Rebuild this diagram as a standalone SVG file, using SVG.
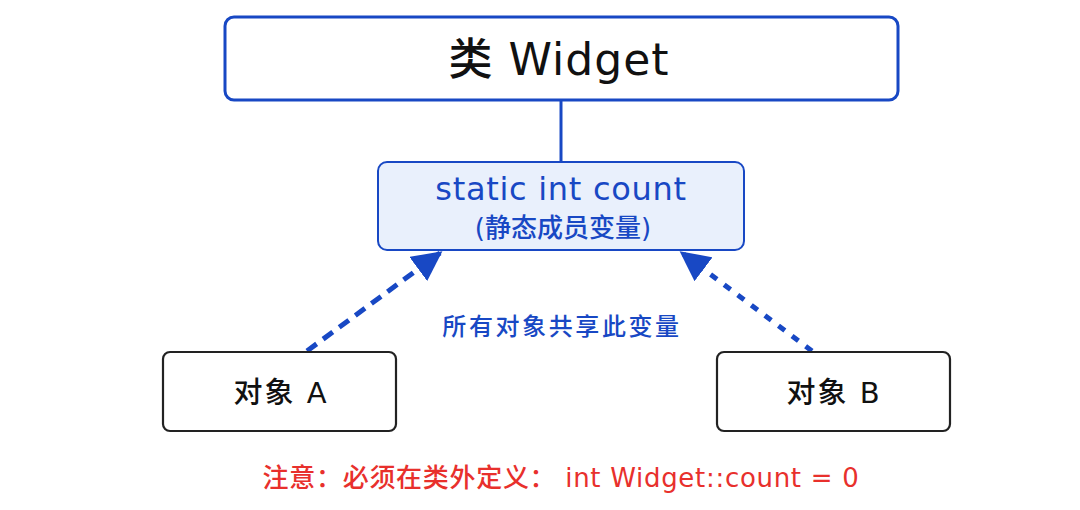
<svg xmlns="http://www.w3.org/2000/svg" width="1080" height="510" viewBox="0 0 1080 510">
<defs>
<style>
.t{font-family:"DejaVu Sans","Noto Sans CJK SC",sans-serif;text-anchor:middle;font-weight:500}
.blue{fill:#1848c4}
.obj{fill:#ffffff;stroke:#222;stroke-width:2.2}
.arrow{stroke:#1848c4;stroke-width:5;fill:none}
</style>
<marker id="ah" viewBox="0 0 10 10" refX="9" refY="5" markerWidth="6" markerHeight="6" markerUnits="strokeWidth" orient="auto">
<path d="M0,0 L10,5 L0,10 Z" fill="#1848c4"/>
</marker>
</defs>
<rect width="1080" height="510" fill="#ffffff"/>
<g id="connectors">
<line x1="561" y1="100" x2="561" y2="162" stroke="#1848c4" stroke-width="3"/>
<line class="arrow" x1="307" y1="351" x2="440" y2="253" stroke-dasharray="12 8" marker-end="url(#ah)"/>
<line class="arrow" x1="812" y1="351" x2="682" y2="253" stroke-dasharray="8 9" marker-end="url(#ah)"/>
</g>
<g id="class-widget">
<rect x="225" y="17" width="673" height="83" rx="9" fill="#fff" stroke="#1848c4" stroke-width="3"/>
<text class="t" x="559" y="75" font-size="44" letter-spacing="1" fill="#111">类 Widget</text>
</g>
<g id="static-count">
<rect x="378" y="162" width="366" height="88" rx="9" fill="#e9f0fc" stroke="#1848c4" stroke-width="2"/>
<text class="t blue" x="561" y="200" font-size="32" letter-spacing="0.7">static int count</text>
<text class="t blue" x="563" y="237" font-size="26" font-weight="bold">(静态成员变量)</text>
</g>
<g id="shared-label">
<text class="t blue" x="562" y="335" font-size="24" letter-spacing="2.6" font-weight="bold">所有对象共享此变量</text>
</g>
<g id="object-a">
<rect class="obj" x="163" y="352" width="233" height="79" rx="7"/>
<text class="t" x="281" y="403" font-size="29" letter-spacing="2" fill="#111">对象 A</text>
</g>
<g id="object-b">
<rect class="obj" x="717" y="352" width="233" height="79" rx="7"/>
<text class="t" x="834" y="403" font-size="29" letter-spacing="2" fill="#111">对象 B</text>
</g>
<g id="note">
<text class="t" x="561" y="487" font-size="26" letter-spacing="0.7" fill="#e8302c">注意：必须在类外定义： int Widget::count = 0</text>
</g>
</svg>
